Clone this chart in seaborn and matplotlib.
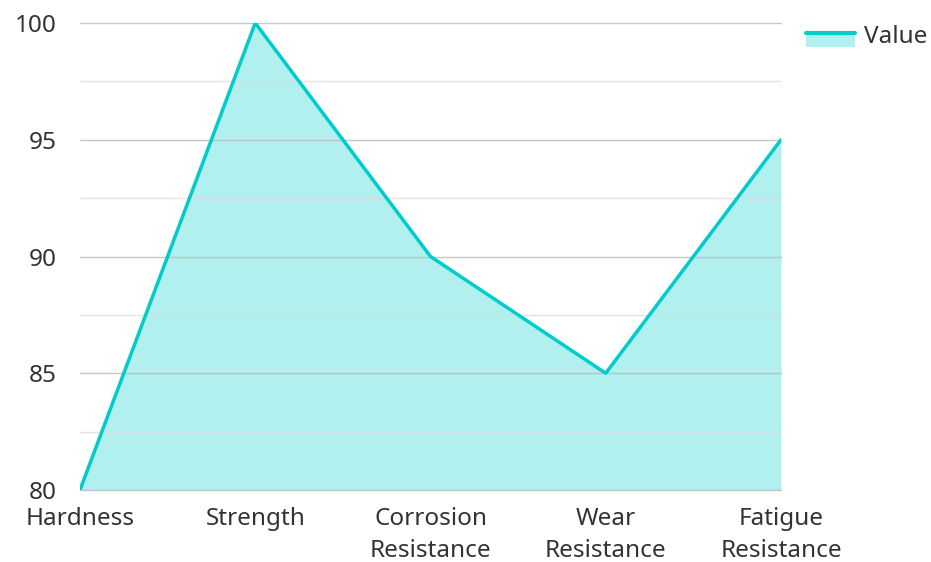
import matplotlib
matplotlib.use("Agg")
import matplotlib.pyplot as plt
import seaborn as sns
import pandas as pd
import numpy as np
from matplotlib.lines import Line2D
from matplotlib.patches import Patch, Rectangle
from matplotlib.legend_handler import HandlerBase

categories = ["Hardness", "Strength", "Corrosion\nResistance", "Wear\nResistance", "Fatigue\nResistance"]
values = [80, 100, 90, 85, 95]
y_ticks = [80, 85, 90, 95, 100]
series_name = "Value"

LINE = "#00CCCC"
FILL = "#B2EFEF"
FS = 17.5

sns.set_theme(style="white")
plt.rcParams['font.family'] = ['Noto Sans', 'DejaVu Sans']

df = pd.DataFrame({"category": categories, "value": values})
df["x"] = np.arange(len(categories))

fig = plt.figure(figsize=(9.31, 5.62), dpi=100)
ax = fig.add_axes([80/931, 1-490/562, (781-80)/931, (490-23)/562])

ax.fill_between(df["x"], df["value"], 80, color=FILL, linewidth=0, zorder=1)
sns.lineplot(data=df, x="x", y="value", ax=ax, color=LINE, linewidth=2.5, zorder=3, legend=False)

ax.set_xlim(0, len(categories) - 1)
ax.set_ylim(80, 100)
ax.set_yticks(y_ticks)
ax.set_yticks([82.5, 87.5, 92.5, 97.5], minor=True)
ax.set_xticks(df["x"])
ax.set_xticklabels(categories, linespacing=1.4)
ax.grid(True, which="major", axis="y", color="#bdbdbd", linewidth=1.0, zorder=2, alpha=0.85)
ax.grid(True, which="minor", axis="y", color="#dcdcdc", linewidth=1.0, zorder=2, alpha=0.8)
ax.set_axisbelow(False)
for gl in ax.get_ygridlines():
    gl.set_clip_on(False)
for s in ax.spines.values():
    s.set_visible(False)
ax.tick_params(axis="y", which="both", length=0, pad=16.5, labelsize=FS, labelcolor="#333333")
ax.tick_params(axis="x", length=0, pad=12.5, labelsize=FS, labelcolor="#333333")
ax.set_xlabel("")
ax.set_ylabel("")


class AreaHandler(HandlerBase):
    def create_artists(self, legend, orig_handle, xdescent, ydescent, width, height, fontsize, trans):
        rect = Rectangle((-xdescent, -ydescent - height * 0.3), width, height * 0.9, facecolor=FILL, edgecolor="none", transform=trans)
        line = Line2D([-xdescent, -xdescent + width], [-ydescent + height * 0.6] * 2, color=LINE, linewidth=3, transform=trans)
        return [rect, line]


handle = Patch(facecolor=FILL)
leg = fig.legend([handle], [series_name], handler_map={Patch: AreaHandler()},
                 loc="upper left", bbox_to_anchor=(806/931, 1-25/562), frameon=False,
                 fontsize=FS, handlelength=2.0, handleheight=0.6, handletextpad=0.4,
                 borderaxespad=0, borderpad=0)
for t in leg.get_texts():
    t.set_color("#333333")

fig.savefig("out.png", dpi=100)
